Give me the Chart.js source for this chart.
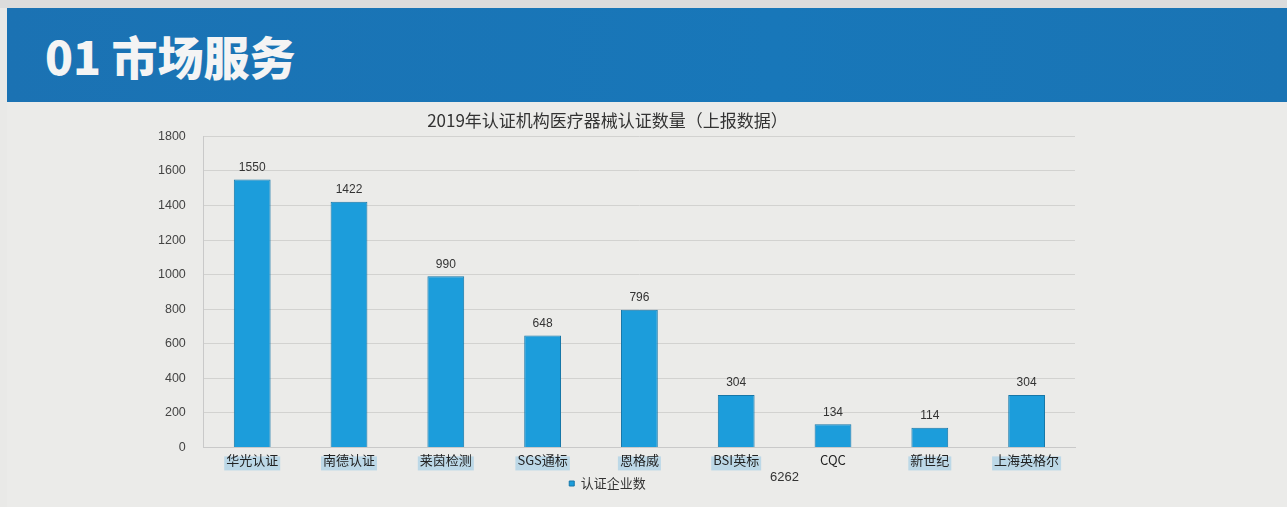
<!DOCTYPE html>
<html>
<head>
<meta charset="utf-8">
<script src="https://cdn.jsdelivr.net/npm/chart.js@4.4.0/dist/chart.umd.min.js"></script>
<style>
  body { margin: 0; width: 1287px; height: 507px; background: #e9e9e7; overflow: hidden; font-family: "Noto Sans CJK SC", sans-serif; position: relative; }
  #topline { position: absolute; left: 0; top: 0; width: 1287px; height: 8px; background: #dcdcdc; }
  #header { position: absolute; left: 7px; top: 8px; width: 1280px; height: 94px; background: linear-gradient(90deg, #1b72b3, #1877b9 60%, #1a74b4); }
  #header h1 { margin: 0; position: absolute; left: 38px; top: 17px; line-height: 60px; color: #f4f4f4; font-size: 46px; font-weight: 900; font-family: "Noto Sans CJK SC", sans-serif; letter-spacing: 0px; }
  #slide { position: absolute; left: 7px; top: 102px; width: 1280px; height: 405px; background: #ebebe9; }
  #wrap { position: absolute; left: 0; top: 102px; width: 1287px; height: 405px; }
  #total { position: absolute; left: 770px; top: 469px; font-size: 13px; color: #333; font-family: "Liberation Sans", Arial, sans-serif; }
</style>
</head>
<body>
<div id="topline"></div>
<div id="header"><h1>01 市场服务</h1></div>
<div id="slide"></div>
<div id="wrap"><canvas id="myChart"></canvas></div>
<div id="total">6262</div>
<script>
'use strict';

var chartTitle = '2019年认证机构医疗器械认证数量（上报数据）';
var chartnames = ['华光认证', '南德认证', '莱茵检测', 'SGS通标', '恩格威', 'BSI英标', 'CQC', '新世纪', '上海英格尔'];
var chartvotes = [1550, 1422, 990, 648, 796, 304, 134, 114, 304];
var seriesName = '认证企业数';
var yTicks = [0, 200, 400, 600, 800, 1000, 1200, 1400, 1600, 1800];

// draws the number on top of each bar
var barLabels = {
    id: 'barLabels',
    afterDatasetsDraw: function (chart) {
        var ctx = chart.ctx;
        var meta = chart.getDatasetMeta(0);
        ctx.save();
        ctx.font = '12px "Liberation Sans", Arial, sans-serif';
        ctx.fillStyle = '#333';
        ctx.textAlign = 'center';
        ctx.textBaseline = 'bottom';
        for (var i = 0; i < meta.data.length; i++) {
            var bar = meta.data[i];
            ctx.fillText(chartvotes[i], bar.x, bar.y - 6);
        }
        ctx.restore();
    }
};

// light blue highlight behind the category names
var labelMarks = {
    id: 'labelMarks',
    beforeDraw: function (chart) {
        var ctx = chart.ctx;
        var xs = chart.scales.x;
        ctx.save();
        ctx.font = '13px "Noto Sans CJK SC", sans-serif';
        ctx.fillStyle = 'rgba(150,200,230,0.55)';
        for (var i = 0; i < chartnames.length; i++) {
            if (chartnames[i] === 'CQC') continue;
            var w = ctx.measureText(chartnames[i]).width;
            var x = xs.getPixelForValue(i);
            ctx.fillRect(x - w / 2 - 2, xs.top + 9, w + 4, 14);
        }
        ctx.restore();
    }
};

var ctx = document.getElementById('myChart').getContext('2d');
var chart = new Chart(ctx, {
    type: 'bar',
    data: {
        labels: chartnames,
        datasets: [{
            label: seriesName,
            backgroundColor: '#1c9ddb',
            borderColor: '#1677a8',
            borderWidth: 1,
            data: chartvotes,
            barPercentage: 0.38,
            categoryPercentage: 1
        }]
    },
    options: {
        responsive: true,
        maintainAspectRatio: false,
        animation: false,
        layout: { padding: { left: 140, right: 212, top: 8, bottom: 7 } },
        plugins: {
            title: {
                display: true,
                text: chartTitle,
                color: '#333',
                font: { size: 17, family: '"Noto Sans CJK SC", sans-serif', weight: 'normal' },
                padding: { top: 0, bottom: 6 }
            },
            legend: {
                position: 'bottom',
                labels: {
                    boxWidth: 5,
                    boxHeight: 5,
                    padding: 4,
                    color: '#333',
                    font: { size: 13, family: '"Noto Sans CJK SC", sans-serif' }
                }
            },
            tooltip: { enabled: false }
        },
        scales: {
            x: {
                grid: { display: false, drawTicks: false },
                border: { color: '#c9c9c9' },
                ticks: {
                    color: '#222',
                    font: { size: 13, family: '"Noto Sans CJK SC", sans-serif' },
                    maxRotation: 0,
                    padding: 5
                }
            },
            y: {
                min: 0,
                max: 1800,
                afterBuildTicks: function (axis) {
                    axis.ticks = yTicks.map(function (v) { return { value: v }; });
                },
                grid: { color: '#d2d2d0', drawTicks: false },
                border: { color: '#c9c9c9' },
                ticks: {
                    color: '#444',
                    font: { size: 12.5, family: '"Liberation Sans", Arial, sans-serif' },
                    padding: 18,
                    callback: function (v) { return String(v); }
                }
            }
        }
    },
    plugins: [barLabels, labelMarks]
});
</script>
</body>
</html>
